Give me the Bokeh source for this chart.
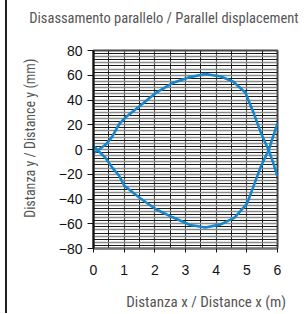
from bokeh.plotting import figure
from bokeh.models import Range1d, SingleIntervalTicker, FixedTicker, LinearAxis
from bokeh.embed import file_html
from bokeh.resources import INLINE

# data
upper_x = [0, 0.14, 0.4, 0.6, 0.85, 1.05, 1.5, 2.05, 2.6, 3.15, 3.65, 4.15, 4.55, 4.95, 5.2, 5.45, 5.72, 5.85, 6.0]
upper_y = [-3, -0.6, 4, 10, 21, 26, 35, 46, 54, 58.5, 61, 59, 55, 46, 31, 14, -1, -10, -22]
lower_x = [0, 0.14, 0.4, 0.61, 0.83, 1.0, 1.5, 2.05, 2.6, 3.15, 3.65, 4.15, 4.6, 5.0, 5.2, 5.45, 5.72, 5.85, 6.0]
lower_y = [3, -0.6, -7, -14.6, -21, -29, -39, -48.5, -55, -61, -63, -60.5, -55, -44, -31, -14, 0, 10, 21]

title_text = "Disassamento parallelo / Parallel displacement"
ylab_text = "Distanza y / Distance y (mm)"
xlab_text = "Distanza x / Distance x (m)"

NBSP = "\u00a0"
NARROW = "'Liberation Sans Narrow', 'Arial Narrow', 'Roboto Condensed', 'Sofia Sans Condensed', sans-serif"
TXT = "#555555"
BLUE = "#1787c9"

p = figure(width=296, height=313, output_backend="svg", toolbar_location=None,
           title_location=None,
           x_range=Range1d(0, 6), y_range=Range1d(-80, 80),
           min_border_left=86, min_border_right=26, min_border_top=50, min_border_bottom=60)
p.styles = {"border-left": "2px solid #222", "margin-left": "5px"}

# grids
p.xgrid.ticker = SingleIntervalTicker(interval=1, num_minor_ticks=2)
p.xgrid.grid_line_color = "#555555"
p.xgrid.grid_line_width = 1.2
p.xgrid.minor_grid_line_color = "#222222"
p.xgrid.minor_grid_line_width = 1
p.ygrid.ticker = SingleIntervalTicker(interval=5, num_minor_ticks=2)
p.ygrid.grid_line_color = "#8a8a8a"
p.ygrid.grid_line_width = 1.3
p.ygrid.minor_grid_line_color = "#1a1a1a"
p.ygrid.minor_grid_line_width = 1
p.outline_line_color = "#444444"
p.outline_line_width = 2

# axes
p.xaxis.ticker = SingleIntervalTicker(interval=1, num_minor_ticks=0)
p.yaxis.ticker = SingleIntervalTicker(interval=20, num_minor_ticks=0)
for ax in (p.xaxis[0], p.yaxis[0]):
    ax.axis_line_color = "#111111"
    ax.axis_line_width = 2
    ax.major_tick_line_color = "#111111"
    ax.major_tick_line_width = 1
    ax.major_tick_in = 0
    ax.minor_tick_line_color = None
    ax.major_label_text_font = "Liberation Sans"
    ax.major_label_text_font_size = "14px"
    ax.major_label_text_color = "#111111"
p.yaxis.major_tick_out = 6
p.yaxis.major_label_standoff = 5
p.xaxis.major_tick_out = 4
p.xaxis.major_label_standoff = 12
p.xaxis.axis_line_color = "#777777"

# label-only axes
def label_axis(text, standoff, size):
    return LinearAxis(ticker=FixedTicker(ticks=[]), axis_label=text,
                      axis_line_color=None, major_tick_line_color=None,
                      minor_tick_line_color=None, major_tick_out=0, major_tick_in=0,
                      minor_tick_out=0, minor_tick_in=0, major_label_text_font_size="0px",
                      axis_label_text_font=NARROW, axis_label_text_font_size=size,
                      axis_label_text_font_style="normal", axis_label_text_color=TXT,
                      axis_label_standoff=standoff)

p.add_layout(label_axis(title_text + NBSP * 13, 24, "14.5px"), "above")
p.add_layout(label_axis(NBSP * 7 + ylab_text, 18, "14px"), "left")
p.add_layout(label_axis(NBSP * 12 + xlab_text, 15, "15px"), "below")

# curves
p.line(upper_x, upper_y, line_color=BLUE, line_width=2.6)
p.line(lower_x, lower_y, line_color=BLUE, line_width=2.6)

open("out.html", "w").write(file_html(p, INLINE))
